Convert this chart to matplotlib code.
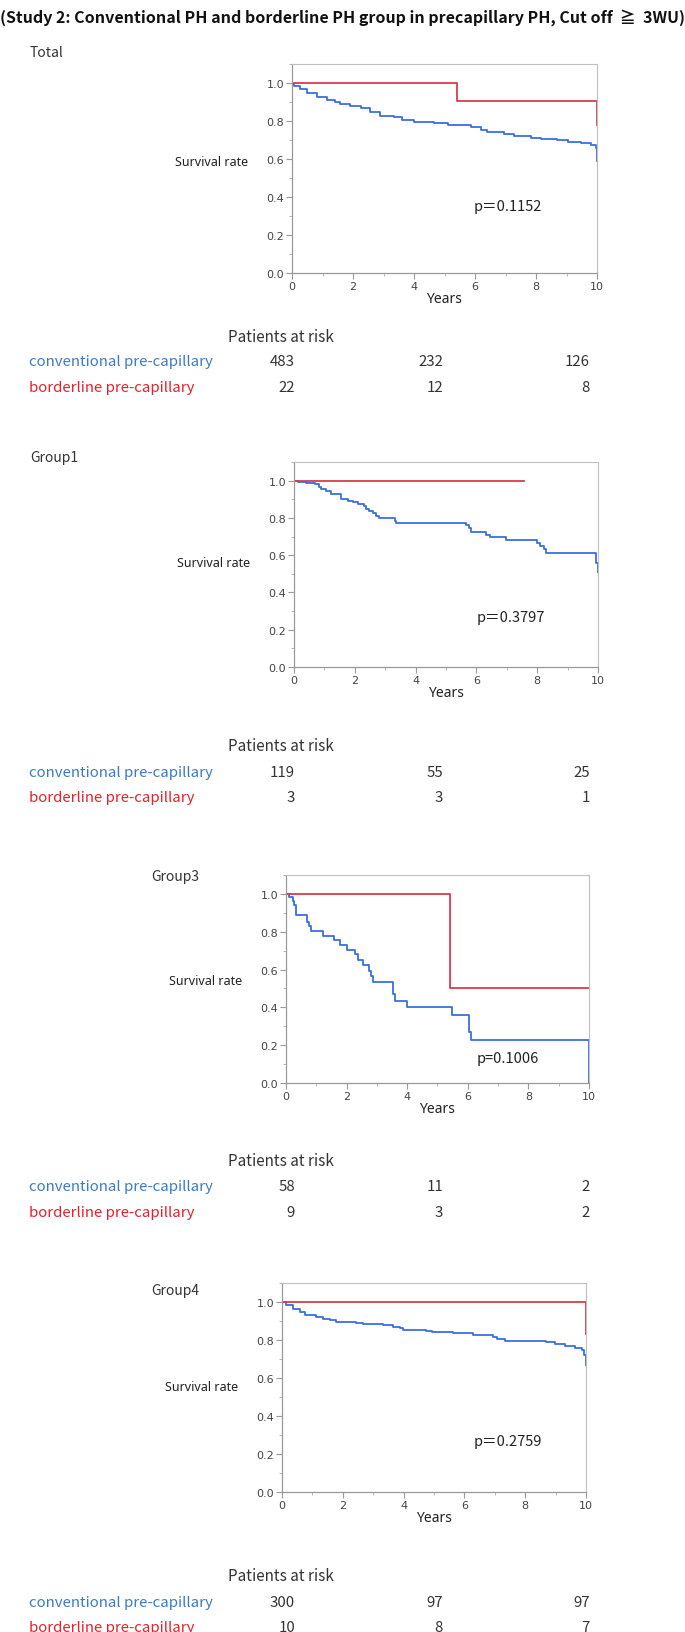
#!/usr/bin/env python3
"""Kaplan-Meier survival curves, study 2, with patients-at-risk tables"""

import matplotlib
matplotlib.use("Agg")
import matplotlib.pyplot as plt
from matplotlib.ticker import MultipleLocator

W, H = 685, 1633

title = "(Study 2: Conventional PH and borderline PH group in precapillary PH, Cut off  \u2267  3WU)"
panel_names = ["Total", "Group1", "Group3", "Group4"]
p_labels = ["p\uff1d0.1152", "p\uff1d0.3797", "p=0.1006", "p\uff1d0.2759"]
row_labels = ["conventional pre-capillary", "borderline pre-capillary"]

# blue curve: conventional pre-capillary (time in years, survival after the step)
conv_t = [
    [0.0, 0.05, 0.27, 0.5, 0.82, 1.15, 1.4, 1.59, 1.9, 2.25, 2.57, 2.9, 3.34, 3.6,
     4.0, 4.65, 5.1, 5.53, 5.86, 6.19, 6.4, 6.95, 7.28, 7.83, 8.16, 8.7, 9.04,
     9.47, 9.8, 9.97, 10.0],
    [0.0, 0.13, 0.4, 0.68, 0.82, 0.9, 1.06, 1.23, 1.56, 1.78, 1.94, 2.1, 2.29,
     2.38, 2.47, 2.6, 2.71, 2.8, 3.31, 3.37, 5.67, 5.76, 5.83, 6.3, 6.44, 6.98,
     8.0, 8.1, 8.21, 8.3, 9.92, 10.0],
    [0.0, 0.1, 0.22, 0.27, 0.33, 0.7, 0.77, 0.84, 1.23, 1.58, 1.78, 2.0, 2.27,
     2.38, 2.55, 2.75, 2.8, 2.86, 3.52, 3.59, 3.98, 5.49, 6.03, 6.1, 10.0],
    [0.0, 0.14, 0.36, 0.58, 0.75, 1.13, 1.35, 1.57, 1.79, 2.45, 2.67, 3.33, 3.66,
     3.87, 3.98, 4.75, 4.92, 5.63, 6.29, 6.95, 7.06, 7.33, 8.7, 8.98, 9.31, 9.64,
     9.86, 9.95, 10.0],
]
conv_s = [
    [0.995, 0.985, 0.968, 0.945, 0.925, 0.912, 0.902, 0.89, 0.878, 0.866, 0.846,
     0.828, 0.82, 0.807, 0.793, 0.79, 0.781, 0.78, 0.767, 0.755, 0.741, 0.732,
     0.72, 0.713, 0.704, 0.70, 0.692, 0.685, 0.674, 0.66, 0.587],
    [1.0, 0.995, 0.99, 0.98, 0.965, 0.955, 0.945, 0.93, 0.90, 0.893, 0.884, 0.875,
     0.862, 0.848, 0.835, 0.825, 0.81, 0.797, 0.785, 0.772, 0.76, 0.745, 0.725,
     0.71, 0.697, 0.68, 0.665, 0.647, 0.632, 0.61, 0.56, 0.51],
    [1.0, 0.983, 0.96, 0.94, 0.887, 0.85, 0.83, 0.805, 0.78, 0.755, 0.73, 0.705,
     0.68, 0.65, 0.625, 0.59, 0.565, 0.535, 0.47, 0.435, 0.40, 0.36, 0.27, 0.225,
     0.0],
    [1.0, 0.985, 0.965, 0.945, 0.93, 0.92, 0.913, 0.905, 0.897, 0.89, 0.883,
     0.877, 0.87, 0.862, 0.855, 0.848, 0.84, 0.835, 0.827, 0.815, 0.805, 0.795,
     0.787, 0.78, 0.77, 0.76, 0.75, 0.72, 0.67],
]
# red curve: borderline pre-capillary
bord_t = [
    [0.0, 5.41, 10.0],
    [0.0, 7.57],
    [0.0, 5.41, 10.0],
    [0.0, 10.0],
]
bord_s = [
    [1.0, 0.906, 0.781],
    [1.0, 1.0],
    [1.0, 0.50, 0.50],
    [1.0, 0.83],
]

risk_conv = [[483, 232, 126], [119, 55, 25], [58, 11, 2], [300, 97, 97]]
risk_bord = [[22, 12, 8], [3, 3, 1], [9, 3, 2], [10, 8, 7]]

# layout in pixels of the reference
axes_px = [(292, 597, 65, 274), (294, 598, 463, 668),
           (286, 589, 876, 1084), (282, 586, 1284, 1493)]
name_px = [(30, 53), (30, 458), (151, 877), (151, 1291)]
ylab_y = [163, 564, 982, 1388]
pval_xy = [(5.95, 0.35), (6.0, 0.27), (6.3, 0.13), (6.3, 0.27)]
table_y = [(337, 362, 388), (747, 773, 798), (1162, 1187, 1213), (1577, 1603, 1628)]
num_x = [295, 443, 590]

BLUE = "#3a6ee0"
RED = "#db3a4c"
LBLUE = "#3a7cc4"
LRED = "#e8202a"
CJK = ["Noto Sans CJK JP", "DejaVu Sans"]


def fx(x):
    return x / W


def fy(y):
    return 1 - y / H


def drawPanel(fig, i):
    """One survival plot with its labels and risk table"""
    x0, x1, y0, y1 = axes_px[i]
    ax = fig.add_axes([fx(x0), fy(y1), (x1 - x0) / W, (y1 - y0) / H])
    ax.step(conv_t[i], conv_s[i], where="post", color=BLUE, lw=1.3)
    ax.step(bord_t[i], bord_s[i], where="post", color=RED, lw=1.3)
    ax.set_xlim(0, 10)
    ax.set_ylim(0, 1.1)
    ax.xaxis.set_major_locator(MultipleLocator(2))
    ax.xaxis.set_minor_locator(MultipleLocator(1))
    ax.yaxis.set_minor_locator(MultipleLocator(0.1))
    ax.set_yticks([0.0, 0.2, 0.4, 0.6, 0.8, 1.0])
    ax.set_yticklabels(["0.0", "0.2", "0.4", "0.6", "0.8", "1.0"])
    ax.tick_params(which="major", length=4, width=0.8, color="#999999",
                   labelsize=8, labelcolor="#444444", pad=1.5)
    ax.tick_params(which="minor", length=2.5, width=0.6, color="#aaaaaa")
    for side in ["top", "right"]:
        ax.spines[side].set_color("#c0c0c0")
        ax.spines[side].set_linewidth(0.8)
    for side in ["left", "bottom"]:
        ax.spines[side].set_color("#999999")
        ax.spines[side].set_linewidth(0.9)
    ax.text(pval_xy[i][0], pval_xy[i][1], p_labels[i], fontsize=10.5,
            family=CJK, va="center", ha="left", color="#222222")
    ax.set_xlabel("Years", fontsize=10, family="Noto Sans", labelpad=0,
                  color="#222222")

    fig.text(fx(name_px[i][0]), fy(name_px[i][1]), panel_names[i], fontsize=10,
             family=CJK, va="center", ha="left", color="#333333")
    fig.text(fx(x0 - 117), fy(ylab_y[i]), "Survival rate", fontsize=9,
             family="Noto Sans", va="center", ha="left", color="#222222")

    ty = table_y[i]
    fig.text(fx(228), fy(ty[0]), "Patients at risk", fontsize=11, family=CJK,
             va="center", ha="left", color="#333333")
    fig.text(fx(29), fy(ty[1]), row_labels[0], fontsize=10.8, family=CJK,
             va="center", ha="left", color=LBLUE)
    fig.text(fx(29), fy(ty[2]), row_labels[1], fontsize=10.8, family=CJK,
             va="center", ha="left", color=LRED)
    for j in range(3):
        fig.text(fx(num_x[j]), fy(ty[1]), str(risk_conv[i][j]), fontsize=10.8,
                 family=CJK, va="center", ha="right", color="#333333")
        fig.text(fx(num_x[j]), fy(ty[2]), str(risk_bord[i][j]), fontsize=10.8,
                 family=CJK, va="center", ha="right", color="#333333")


def main():
    fig = plt.figure(figsize=(W / 100, H / 100), dpi=100)
    fig.text(fx(0), fy(18), title, fontsize=11.5, fontweight="bold", family=CJK,
             va="center", ha="left", color="#111111")
    for i in range(4):
        drawPanel(fig, i)
    fig.savefig("out.png", dpi=100)


if __name__ == "__main__":
    main()
